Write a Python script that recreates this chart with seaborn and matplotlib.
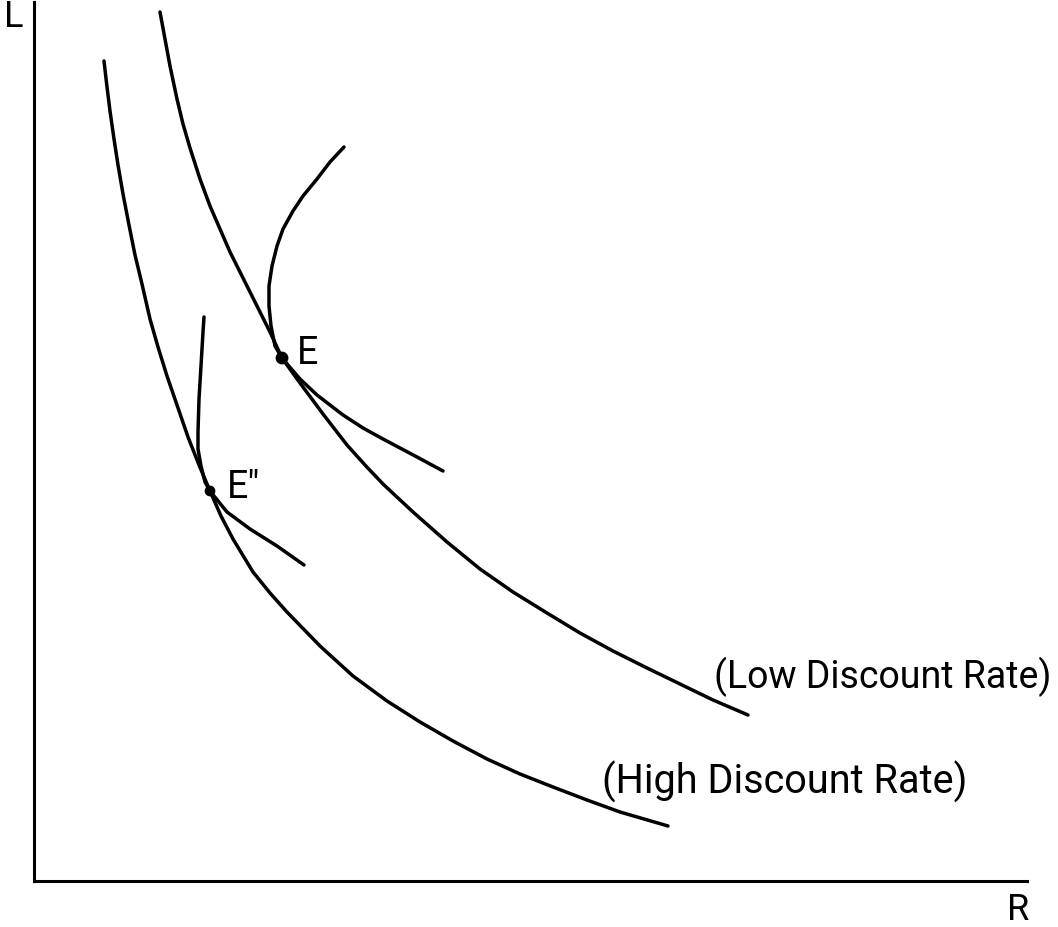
import matplotlib
matplotlib.use("Agg")
import matplotlib.pyplot as plt
import seaborn as sns
import pandas as pd

# ---- data (R on x, L on y) ----
low_R = [126, 131, 136, 143, 149, 156, 166, 176, 186, 196, 206, 216, 226, 236,
         248, 266, 289, 313, 331, 349, 379, 413, 446, 479, 513, 546, 579, 613,
         646, 679, 714]
low_L = [869, 842, 815, 782, 757, 733, 702, 675, 652, 629, 609, 589, 569, 549,
         523, 498, 467, 436, 416, 397, 369, 339, 312, 289, 268, 248, 230, 213,
         197, 181, 166]

high_R = [70, 73, 76, 80, 84, 89, 95, 101, 108, 116, 124, 133, 143, 154, 165,
          176, 187, 199, 219, 236, 253, 286, 319, 353, 386, 419, 453, 486, 519,
          553, 586, 634]
high_L = [820, 794, 770, 742, 716, 687, 656, 626, 597, 562, 534, 505, 476, 444,
          416, 390, 365, 342, 309, 288, 269, 235, 205, 180, 159, 140, 122, 107,
          94, 81, 69, 55]

e_curve_R = [310, 296, 283, 269, 259, 249, 243, 238, 235, 235, 237, 241, 248,
             266, 283, 296, 309, 329, 349, 366, 383, 396, 409]
e_curve_L = [734, 719, 702, 685, 670, 652, 635, 615, 595, 575, 555, 535, 523,
             502, 486, 476, 466, 453, 442, 433, 424, 417, 410]

e2_curve_R = [170, 169, 167, 165, 164, 164, 167, 171, 176, 193, 216, 243, 270]
e2_curve_L = [564, 549, 515, 482, 449, 432, 415, 399, 390, 369, 352, 335, 316]

eq_names = ["E", "E\u2033"]
eq_R = [248, 176]
eq_L = [523, 390]
eq_size = [85, 60]

curve_labels = ["(Low Discount Rate)", "(High Discount Rate)"]
axis_labels = ["L", "R"]

# ---- figure ----
sns.set_theme(style="white")
plt.rcParams["font.family"] = ["Roboto", "DejaVu Sans"]

W, H = 1058, 928
fig = plt.figure(figsize=(W / 100, H / 100), dpi=100)
fig.patch.set_facecolor("white")
ax = fig.add_axes([34 / W, 46 / H, 993 / W, 879 / H])
ax.set_facecolor("white")

lw = 2.5
for xs, ys in [(low_R, low_L), (high_R, high_L),
               (e_curve_R, e_curve_L), (e2_curve_R, e2_curve_L)]:
    df = pd.DataFrame({"R": xs, "L": ys})
    sns.lineplot(data=df, x="R", y="L", sort=False, estimator=None,
                 color="black", linewidth=lw, solid_capstyle="round",
                 solid_joinstyle="round", ax=ax)

pts = pd.DataFrame({"R": eq_R, "L": eq_L, "size": eq_size})
ax.scatter(pts["R"], pts["L"], s=pts["size"], color="black", linewidths=0, zorder=5)

ax.set_xlim(0, 993)
ax.set_ylim(0, 879)
ax.set_xticks([])
ax.set_yticks([])
ax.set_xlabel("")
ax.set_ylabel("")
for s in ["top", "right"]:
    ax.spines[s].set_visible(False)
for s in ["left", "bottom"]:
    ax.spines[s].set_color("black")
    ax.spines[s].set_linewidth(2.2)

ax.text(680, 205, curve_labels[0], fontsize=27, ha="left", va="center", color="black")
ax.text(568, 100, curve_labels[1], fontsize=28.5, ha="left", va="center", color="black")
ax.text(263, 529, eq_names[0], fontsize=27, ha="left", va="center", color="black")
ax.text(193, 394, eq_names[1], fontsize=27, ha="left", va="center", color="black")
ax.text(-30, 865, axis_labels[0], fontsize=26, ha="left", va="center", color="black")
ax.text(973, -28, axis_labels[1], fontsize=26, ha="left", va="center", color="black")

fig.savefig("out.png", dpi=100, facecolor="white")
